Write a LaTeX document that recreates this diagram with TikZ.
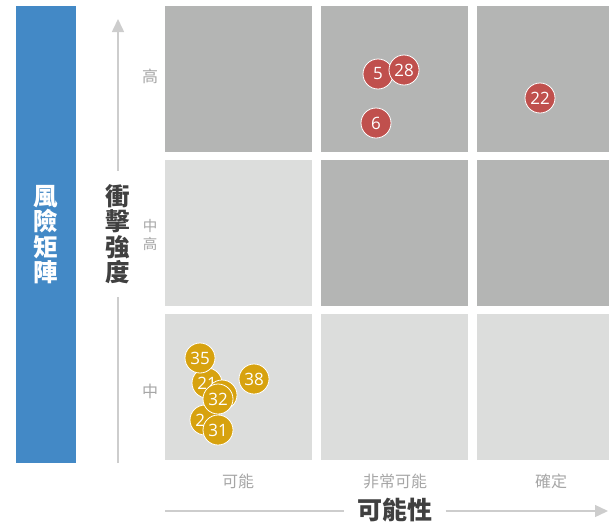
\documentclass[tikz,border=0pt]{standalone}
\usepackage{fontspec}
\newfontfamily\cjk{Noto Sans CJK TC}
\newfontfamily\numfont{Open Sans}
\usetikzlibrary{arrows.meta,positioning}
\definecolor{riskblue}{HTML}{4389C6}
\definecolor{celldark}{HTML}{B4B5B4}
\definecolor{celllight}{HTML}{DCDDDC}
\definecolor{riskred}{HTML}{C0504D}
\definecolor{riskgold}{HTML}{D7A20F}
\definecolor{tickgray}{HTML}{A6A6A6}
\definecolor{axisgray}{HTML}{CDCDCD}
\definecolor{titlegray}{HTML}{404040}

\begin{document}
\begin{tikzpicture}[x=1pt,y=-1pt,
                >={Triangle[length=13pt,width=12pt]},
                cell/.style={minimum width=147pt,minimum height=146pt,inner sep=0pt,anchor=north west},
                risk/.style={circle,draw=white,line width=0.8pt,minimum size=30pt,inner sep=0pt,
                    text=white,font=\numfont\fontsize{17}{17}\selectfont},
                tick/.style={text=tickgray,font=\cjk\fontsize{16}{18}\selectfont,align=center},
                axis/.style={draw=axisgray,line width=1.6pt},
                title/.style={font=\cjk\bfseries\fontsize{24.5}{25.5}\selectfont,align=center}
            ]
            \useasboundingbox (0,0) rectangle (609,525);

            % matrix cells
            \foreach \row/\shades in {0/{celldark,celldark,celldark},1/{celllight,celldark,celldark},2/{celllight,celllight,celllight}}
                \foreach \shade [count=\col from 0] in \shades
                    \node[cell,fill=\shade] (c\row\col) at ({165+156*\col},{6+154*\row}) {};

            % side bar
            \node[fill=riskblue,minimum width=60pt,minimum height=457pt,inner sep=0pt,anchor=north west,
                  title,text=white] (bar) at (16,6) {風\\險\\矩\\陣};

            % impact axis
            \node[title,text=titlegray,inner ysep=13pt] (ylab) at (118,234) {衝\\擊\\強\\度};
            \coordinate (ybot) at (118,463);
            \coordinate (ytop) at (118,19);
            \path[axis] (ybot) -- (ylab.south);
            \path[axis,->] (ylab.north) -- (ytop);
            \node[tick] (yhi) at (150,76) {高};
            \node[tick,font=\cjk\fontsize{14.5}{18}\selectfont] (ymidhi) at (150,235) {中\\高};
            \node[tick] (ymid) at (150,391) {中};

            % likelihood axis
            \node[title,text=titlegray,font=\cjk\bfseries\fontsize{25}{26}\selectfont,inner xsep=13pt] (xlab) at (395,510) {可能性};
            \coordinate (xleft) at (165,511);
            \coordinate (xright) at (608,511);
            \path[axis,line width=1.3pt] (xleft) -- (xlab.west |- xleft);
            \path[axis,line width=1.3pt,->] (xlab.east |- xright) -- (xright);
            \node[tick] (xa) at (238,481) {可能};
            \node[tick] (xb) at (395,481) {非常可能};
            \node[tick] (xc) at (551,481) {確定};

            % risks
            \foreach \num/\px/\py in {5/378/74, 28/404/70, 6/376/123, 22/540/98}
                \node[risk,fill=riskred] (r\num) at (\px,\py) {\num};
            \foreach \name/\px/\py/\txt in {21/207/383/21, 35/200/358/35, 2x/205/420/2\phantom{0}, xx/222/395/{}, 32/218/399/32, 31/218/430/31, 38/254/379/38}
                \node[risk,fill=riskgold] (g\name) at (\px,\py) {\txt};
        \end{tikzpicture}
\end{document}
